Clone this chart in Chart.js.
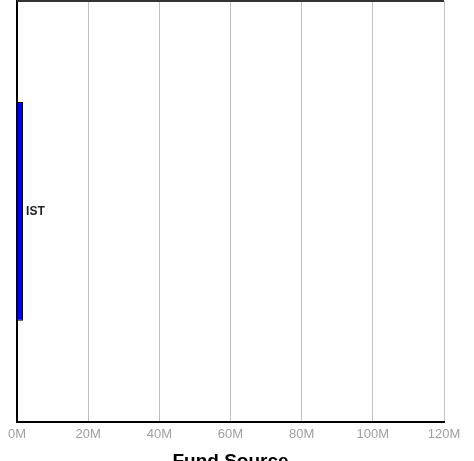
<!DOCTYPE html>
<html>
<head>
<meta charset="utf-8">
<script src="https://cdn.jsdelivr.net/npm/chart.js@4"></script>
<style>
  html, body { margin: 0; padding: 0; background: #fff; overflow: hidden; }
  #wrap { width: 474px; height: 461px; overflow: hidden; }
</style>
</head>
<body>
<div id="wrap"><canvas id="fundChart" width="474" height="480"></canvas></div>
<script>
// data
const categories = ['IST'];
const amounts = [1.7e6];
const tickValues = [0, 20e6, 40e6, 60e6, 80e6, 100e6, 120e6];

// frame line on top of the plot + bar labels
const extras = {
    id: 'extras',
    afterDatasetsDraw(chart) {
        const ctx = chart.ctx;
        const area = chart.chartArea;
        ctx.save();
        ctx.strokeStyle = '#333';
        ctx.lineWidth = 2;
        ctx.beginPath();
        ctx.moveTo(area.left, area.top);
        ctx.lineTo(area.right, area.top);
        ctx.stroke();

        ctx.fillStyle = '#222';
        ctx.font = 'bold 12px "Liberation Sans", Arial, sans-serif';
        ctx.textBaseline = 'middle';
        chart.getDatasetMeta(0).data.forEach(function(bar, i) {
            ctx.fillText(categories[i], bar.x + 3, bar.y);
        });
        ctx.restore();
    }
};

const ctx = document.getElementById('fundChart').getContext('2d');
new Chart(ctx, {
    type: 'bar',
    data: {
        labels: categories,
        datasets: [{
            data: amounts,
            backgroundColor: '#0000ff',
            borderColor: '#000',
            borderWidth: 1,
            categoryPercentage: 1,
            barPercentage: 0.52
        }]
    },
    options: {
        indexAxis: 'y',
        responsive: false,
        animation: false,
        layout: { padding: { top: 1, right: 30, left: 9, bottom: 7 } },
        plugins: {
            legend: { display: false },
            tooltip: { enabled: false }
        },
        scales: {
            x: {
                min: 0,
                max: 120e6,
                afterBuildTicks: function(axis) {
                    axis.ticks = tickValues.map(v => ({ value: v }));
                },
                grid: { color: '#c0c0c0', lineWidth: 1, drawTicks: false },
                border: { color: '#000', width: 2 },
                ticks: {
                    color: '#a0a0a0',
                    padding: 5,
                    maxRotation: 0,
                    font: { family: '"Liberation Sans", Arial, sans-serif', size: 13 },
                    callback: v => (v / 1e6) + 'M'
                },
                title: {
                    display: true,
                    text: 'Fund Source',
                    color: '#000',
                    padding: { top: 3, bottom: 0 },
                    font: { family: '"Liberation Sans", Arial, sans-serif', size: 19, weight: 'bold' }
                }
            },
            y: {
                grid: { display: false },
                border: { color: '#000', width: 2 },
                ticks: { display: false }
            }
        }
    },
    plugins: [extras]
});
</script>
</body>
</html>
